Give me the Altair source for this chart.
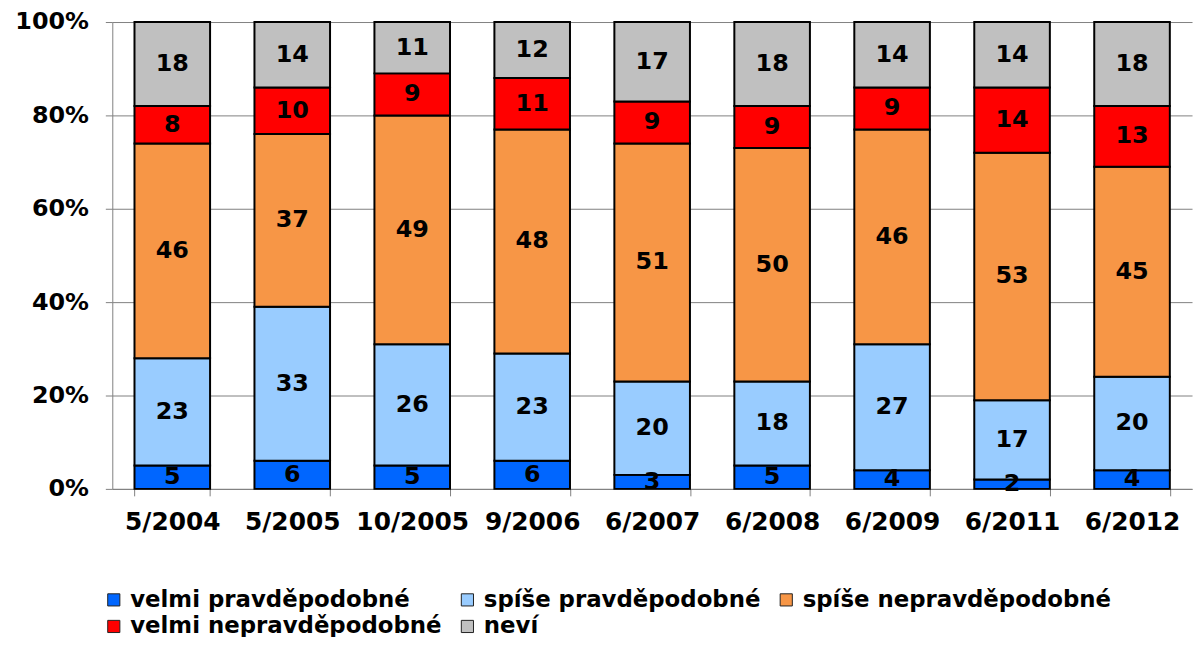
import altair as alt
import pandas as pd

categories = ["5/2004", "5/2005", "10/2005", "9/2006", "6/2007", "6/2008", "6/2009", "6/2011", "6/2012"]
series = ["velmi pravděpodobné", "spíše pravděpodobné", "spíše nepravděpodobné", "velmi nepravděpodobné", "neví"]
colors = ["#0066FF", "#99CCFF", "#F79646", "#FF0000", "#C0C0C0"]

velmi_pravd = [5, 6, 5, 6, 3, 5, 4, 2, 4]
spise_pravd = [23, 33, 26, 23, 20, 18, 27, 17, 20]
spise_neprav = [46, 37, 49, 48, 51, 50, 46, 53, 45]
velmi_neprav = [8, 10, 9, 11, 9, 9, 9, 14, 13]
nevi = [18, 14, 11, 12, 17, 18, 14, 14, 18]

values = [velmi_pravd, spise_pravd, spise_neprav, velmi_neprav, nevi]
rows = []
for si, (name, vals) in enumerate(zip(series, values)):
    for ci, (cat, v) in enumerate(zip(categories, vals)):
        rows.append({"cat": cat, "series": name, "order": si, "value": v})
df = pd.DataFrame(rows)

FONT = "DejaVu Sans"

base = alt.Chart(df).transform_stack(
    stack="value", groupby=["cat"], sort=[alt.SortField("order", order="ascending")], as_=["y0", "y1"]
).transform_calculate(mid="(datum.y0 + datum.y1) / 2")

x = alt.X("cat:N", sort=categories, title=None,
          scale=alt.Scale(paddingInner=0.37, paddingOuter=0.185),
          axis=alt.Axis(labelAngle=0, labelFont=FONT, labelFontWeight="bold", labelFontSize=25,
                        labelColor="black", tickBand="extent", tickSize=7, tickColor="#808080",
                        domainColor="#808080", labelPadding=14))

bars = base.mark_bar(stroke="black", strokeWidth=2).encode(
    x=x,
    y=alt.Y("y0:Q", title=None,
            scale=alt.Scale(domain=[0, 100], nice=False),
            axis=alt.Axis(values=[0, 20, 40, 60, 80, 100], labelExpr="datum.value + '%'",
                          labelFont=FONT, labelFontWeight="bold", labelFontSize=24, labelColor="black",
                          gridColor="#808080", gridWidth=1, domainColor="#808080", tickColor="#808080",
                          tickSize=7, labelPadding=17)),
    y2="y1:Q",
    color=alt.Color("series:N", sort=series, scale=alt.Scale(domain=series, range=colors),
                    legend=alt.Legend(title=None, orient="none", legendX=-10, legendY=570,
                                      direction="horizontal", columns=3,
                                      labelFont=FONT, labelFontWeight="bold", labelFontSize=23,
                                      labelColor="black", symbolType="square", symbolSize=150,
                                      symbolStrokeColor="#222", symbolStrokeWidth=1,
                                      labelOffset=5, columnPadding=14, rowPadding=3,
                                      labelLimit=400)),
)

labels = base.mark_text(font=FONT, fontWeight="bold", fontSize=24, color="black", baseline="middle").encode(
    x=alt.X("cat:N", sort=categories),
    y=alt.Y("mid:Q"),
    text=alt.Text("value:Q"),
)

chart = alt.layer(bars, labels).properties(
    width=1087, height=470,
    autosize=alt.AutoSizeParams(type="none"),
    padding={"left": 105, "top": 12, "right": 3, "bottom": 147},
).configure_view(stroke=None).configure_axis(grid=True).configure_axisX(grid=False)

chart.save("out.html", embed_options={"renderer": "svg", "actions": False})
